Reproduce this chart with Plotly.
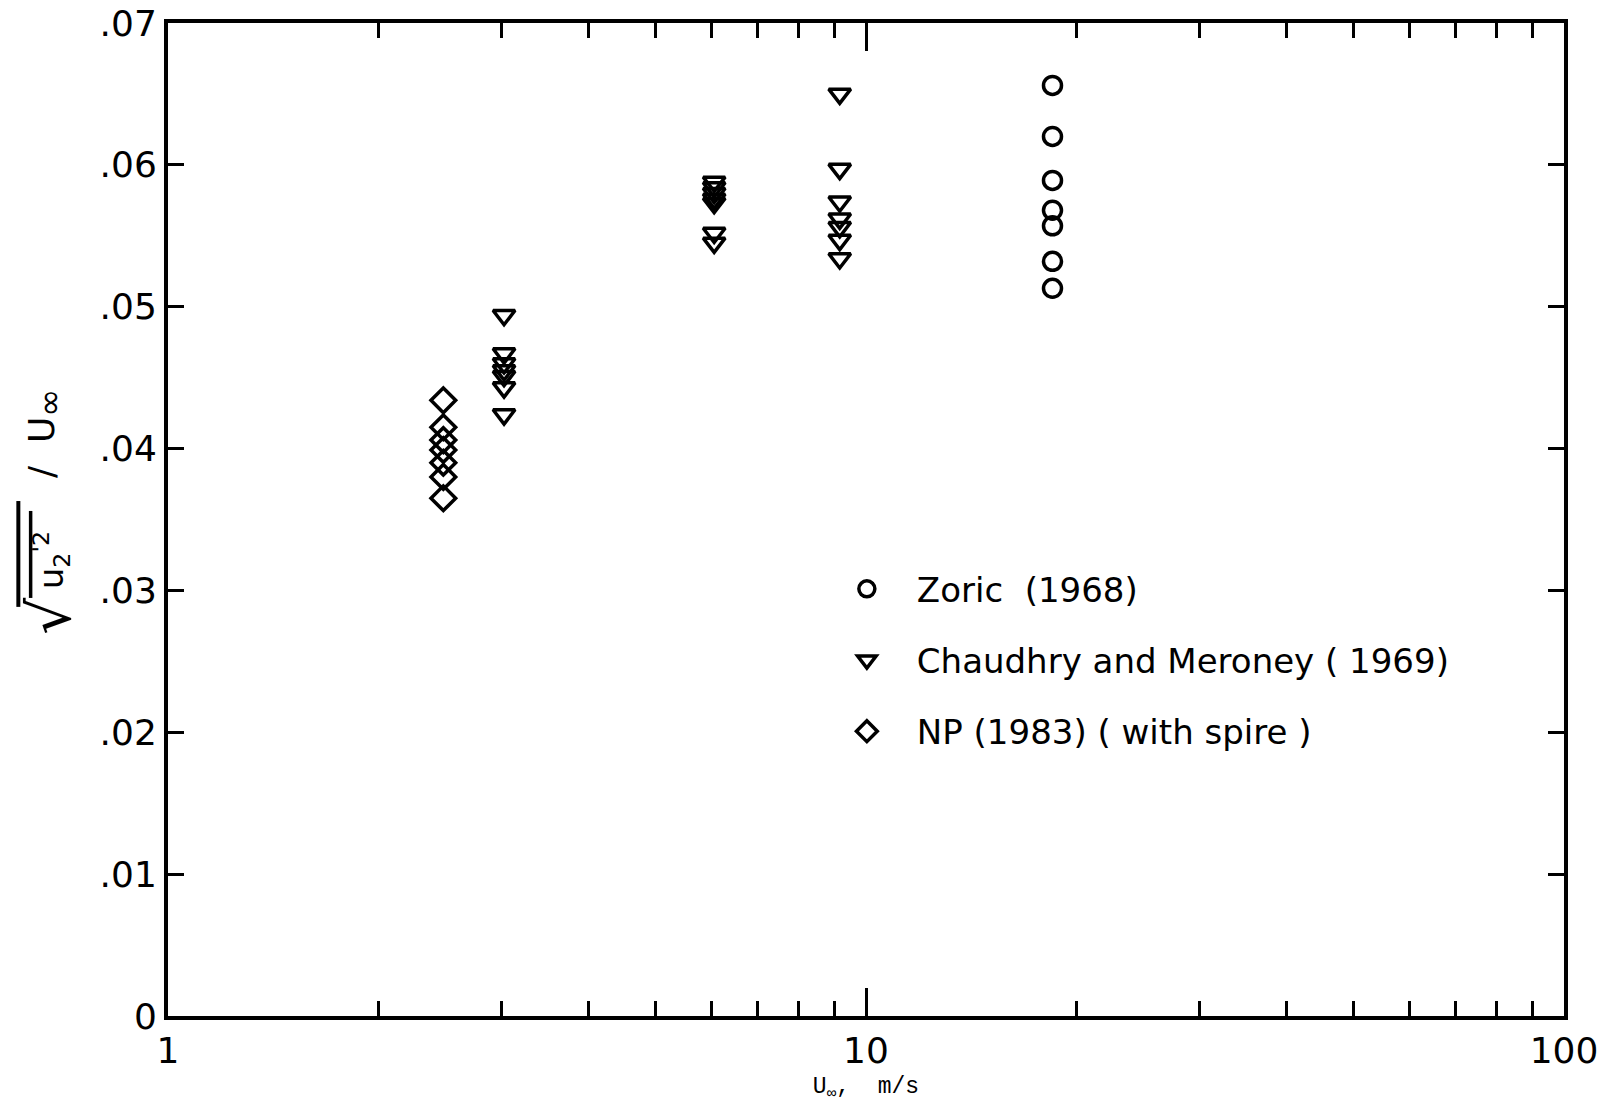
import plotly.graph_objects as go

# Free-stream velocity (m/s) and turbulence intensity sqrt(u2'^2)/U_inf
zoric_u = [18.5] * 7
zoric_i = [0.0656, 0.0620, 0.0589, 0.0568, 0.0557, 0.0532, 0.0513]

cm_u = [3.03] * 7 + [6.06] * 7 + [9.17] * 7
cm_i = [0.0494, 0.0467, 0.0460, 0.0455, 0.0451, 0.0443, 0.0424,
        0.0588, 0.0584, 0.0580, 0.0576, 0.0573, 0.0552, 0.0545,
        0.0650, 0.0597, 0.0574, 0.0562, 0.0556, 0.0547, 0.0534]

np_u = [2.48] * 7
np_i = [0.0434, 0.0415, 0.0406, 0.0399, 0.0390, 0.0380, 0.0365]

y_ticks = [0, 0.01, 0.02, 0.03, 0.04, 0.05, 0.06, 0.07]
y_labels = ["0", ".01", ".02", ".03", ".04", ".05", ".06", ".07"]
x_ticks = [1, 10, 100]
x_labels = ["1", "10", "100"]
x_minor = [2, 3, 4, 5, 6, 7, 8, 9, 20, 30, 40, 50, 60, 70, 80, 90]

FONT = "DejaVu Sans"
INK = "black"

fig = go.Figure()
fig.add_trace(go.Scatter(
    x=zoric_u, y=zoric_i, mode="markers", name="Zoric  (1968)",
    legendgroup="a",
    marker=dict(symbol="circle-open", size=18, color=INK, line=dict(width=3.5, color=INK)),
))
fig.add_trace(go.Scatter(
    x=cm_u, y=cm_i, mode="markers", name="Chaudhry and Meroney ( 1969)",
    legendgroup="b",
    marker=dict(symbol="triangle-down-open", size=19, color=INK, line=dict(width=3.5, color=INK)),
))
fig.add_trace(go.Scatter(
    x=np_u, y=np_i, mode="markers", name="NP (1983) ( with spire )",
    legendgroup="c",
    marker=dict(symbol="diamond-open", size=19, color=INK, line=dict(width=3.5, color=INK)),
))

# y-axis title: radical sign, mean-square term and "/ U_inf", written rotated
fig.add_annotation(text="/  U<sub><span style='font-size:34px'>∞</span></sub>",
                   textangle=-90, showarrow=False,
                   xref="paper", yref="paper", x=-0.0881, y=0.587,
                   xanchor="center", yanchor="middle",
                   font=dict(family=FONT, size=36, color=INK))
fig.add_annotation(text="u<sub>2</sub><sup>'2</sup>", textangle=-90, showarrow=False,
                   xref="paper", yref="paper", x=-0.0838, y=0.459,
                   xanchor="center", yanchor="middle",
                   font=dict(family=FONT, size=34, color=INK))
fig.add_annotation(text="√", textangle=-90, showarrow=False,
                   xref="paper", yref="paper", x=-0.1103, y=0.402,
                   xanchor="left", yanchor="middle",
                   font=dict(family=FONT, size=58, color=INK))
# vinculum of the radical and the mean bar over u2'^2
fig.add_shape(type="line", xref="paper", yref="paper",
              x0=-0.1072, x1=-0.1072, y0=0.412, y1=0.5186,
              line=dict(color=INK, width=4))
fig.add_shape(type="line", xref="paper", yref="paper",
              x0=-0.0984, x1=-0.0984, y0=0.421, y1=0.5086,
              line=dict(color=INK, width=3.5))

fig.update_layout(
    width=1603, height=1103,
    margin=dict(l=168, r=39, t=23, b=87),
    paper_bgcolor="white", plot_bgcolor="white",
    font=dict(family=FONT, color=INK, size=32),
    showlegend=True,
    legend=dict(
        x=0.4648, y=0.459, xanchor="left", yanchor="top",
        bgcolor="rgba(0,0,0,0)", borderwidth=0,
        traceorder="grouped", tracegroupgap=24,
        itemwidth=90, itemsizing="trace",
        font=dict(family=FONT, size=34, color=INK),
    ),
    xaxis=dict(
        type="log", range=[0, 2], automargin=False,
        tickmode="array", tickvals=x_ticks, ticktext=x_labels,
        ticks="inside", ticklen=28, tickwidth=3, tickcolor=INK,
        minor=dict(tickmode="array", tickvals=x_minor, ticks="inside",
                   ticklen=15, tickwidth=3, tickcolor=INK),
        showline=True, linewidth=4, linecolor=INK, mirror="allticks",
        showgrid=False, zeroline=False,
        tickfont=dict(family=FONT, size=36, color=INK),
        title=dict(text="U<sub>∞</sub>,  m/s", standoff=10,
                   font=dict(family="Liberation Mono", size=23, color=INK)),
    ),
    yaxis=dict(
        range=[0, 0.07], automargin=False,
        tickmode="array", tickvals=y_ticks, ticktext=y_labels,
        ticks="inside", ticklen=16, tickwidth=3, tickcolor=INK,
        showline=True, linewidth=4, linecolor=INK, mirror="allticks",
        showgrid=False, zeroline=False,
        tickfont=dict(family=FONT, size=36, color=INK),
    ),
)

fig.write_html("out.html")
